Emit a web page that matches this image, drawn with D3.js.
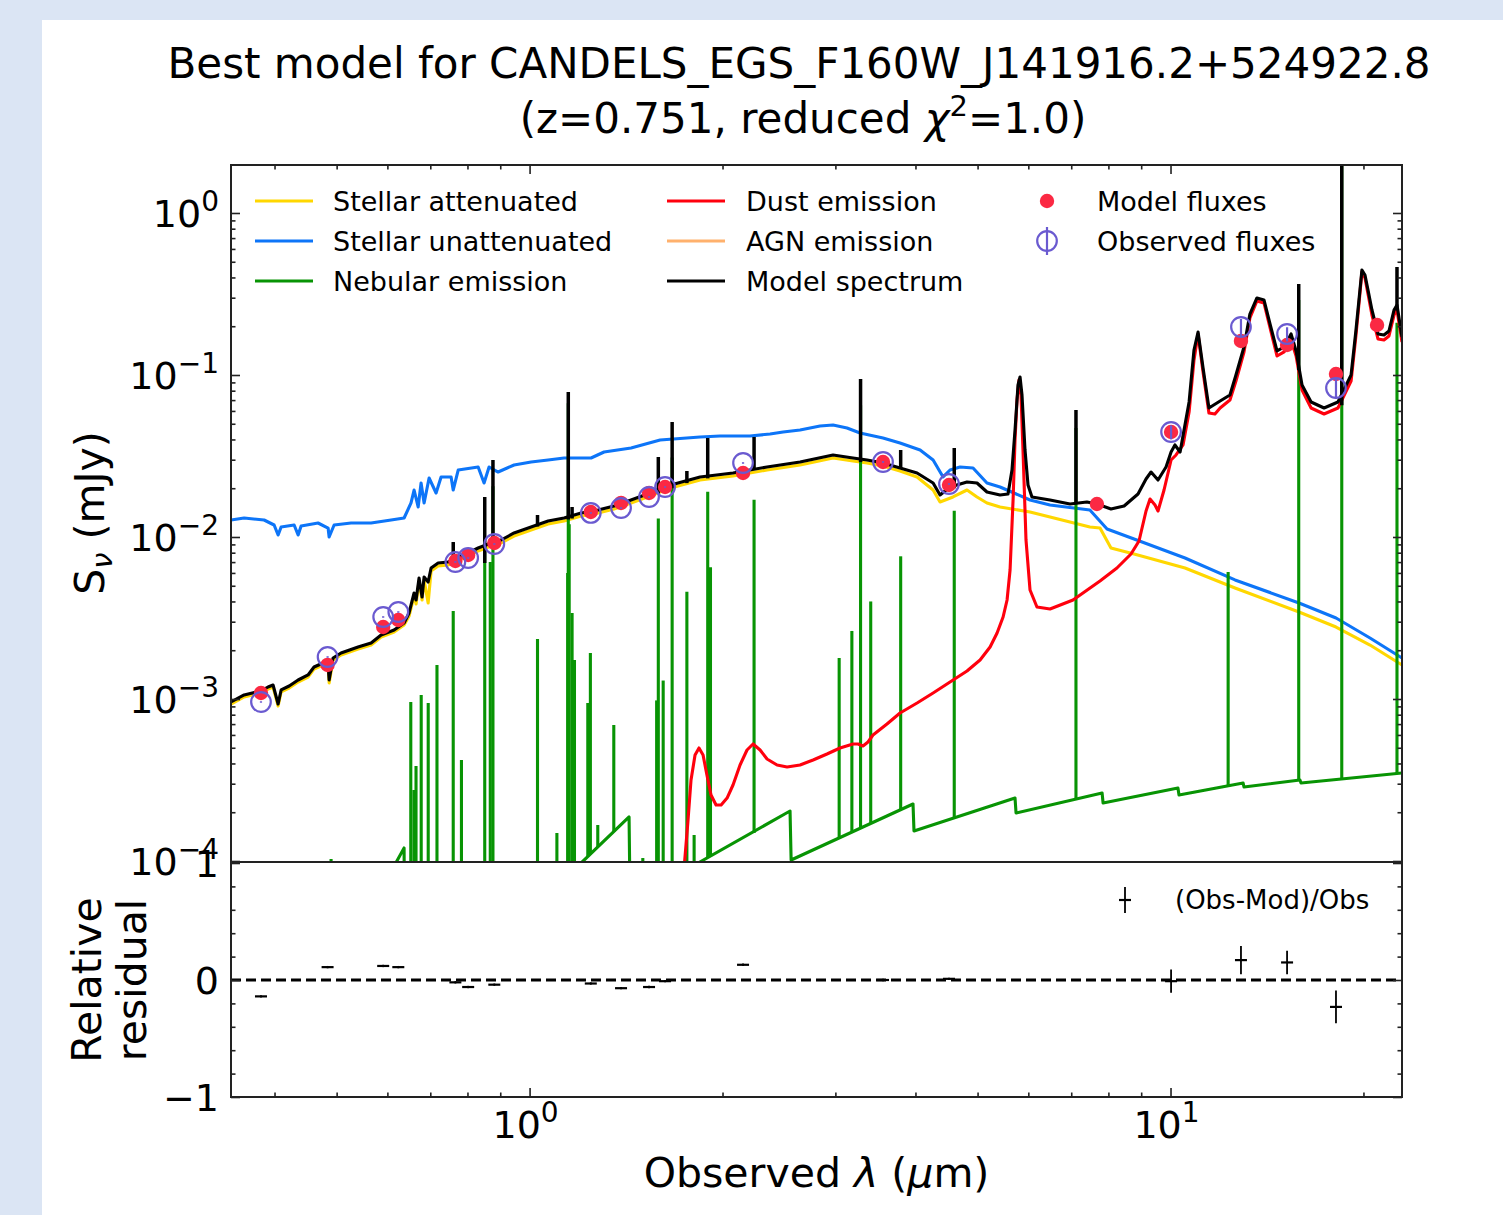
<!DOCTYPE html>
<html>
<head>
<meta charset="utf-8">
<script src="https://cdn.jsdelivr.net/npm/d3@7"></script>
<style>
html,body{margin:0;padding:0;background:#dbe5f4;}
svg{display:block;}
text{font-family:"DejaVu Sans",sans-serif;fill:#000;}
</style>
</head>
<body>
<svg id="chart" width="1503" height="1215"></svg>
<script>
// ---------------- DATA (wavelength in micron, flux density in mJy) ----------------
const stellarAttenuated = [[0.3421,9.31e-4],[0.3586,1.029e-3],[0.3812,1.089e-3],[0.3908,1.152e-3],[0.3979,1.186e-3],[0.4052,9.05e-4],[0.4096,1.105e-3],[0.4216,1.169e-3],[0.4354,1.273e-3],[0.4512,1.367e-3],[0.4610,1.532e-3],[0.4762,1.622e-3],[0.4849,1.576e-3],[0.4867,1.255e-3],[0.4936,1.741e-3],[0.5080,1.869e-3],[0.5400,2.035e-3],[0.5659,2.154e-3],[0.5866,2.413e-3],[0.6147,2.592e-3],[0.6371,2.863e-3],[0.6486,3.252e-3],[0.6604,4.323e-3],[0.6651,3.859e-3],[0.6723,5.352e-3],[0.6796,4.084e-3],[0.6846,5.427e-3],[0.6946,3.914e-3],[0.7020,6.166e-3],[0.7200,6.622e-3],[0.7463,6.717e-3],[0.7738,7.211e-3],[0.7903,7.420e-3],[0.8313,8.197e-3],[0.8708,8.800e-3],[0.9028,9.183e-3],[0.9458,1.014e-2],[1.0054,1.105e-2],[1.0688,1.203e-2],[1.1319,1.255e-2],[1.2035,1.348e-2],[1.2793,1.407e-2],[1.3547,1.489e-2],[1.4398,1.622e-2],[1.5417,1.791e-2],[1.6387,1.978e-2],[1.8450,2.248e-2],[2.0769,2.379e-2],[2.3469,2.591e-2],[2.6424,2.783e-2],[2.9748,3.074e-2],[3.196,2.945e-2],[3.362,2.863e-2],[3.5597,2.743e-2],[3.7844,2.555e-2],[4.0231,2.347e-2],[4.2618,1.950e-2],[4.3693,1.644e-2],[4.5777,1.766e-2],[4.8139,1.950e-2],[4.9899,1.766e-2],[5.1714,1.622e-2],[5.4200,1.532e-2],[6.0368,1.427e-2],[6.4863,1.329e-2],[7.4851,1.153e-2],[7.762,1.136e-2],[8.074,8.553e-3],[8.7723,7.855e-3],[10.535,6.437e-3],[12.607,4.843e-3],[15.865,3.443e-3],[18.124,2.782e-3],[20.477,2.154e-3],[22.97,1.622e-3]];

const stellarUnattenuated = [[0.3421,0.01273],[0.3586,0.01310],[0.3853,0.01273],[0.3994,0.01186],[0.4052,0.01029],[0.4096,0.01153],[0.4292,0.01186],[0.4354,0.01029],[0.4401,0.01169],[0.4677,0.01220],[0.4849,0.01136],[0.4867,0.0100],[0.4955,0.01186],[0.5266,0.01220],[0.5659,0.01220],[0.6081,0.01273],[0.6371,0.01310],[0.6532,0.01622],[0.6604,0.01950],[0.6701,0.01532],[0.6772,0.02154],[0.6846,0.01622],[0.6970,0.02313],[0.7147,0.01869],[0.7277,0.02347],[0.7543,0.02347],[0.7600,0.01950],[0.7738,0.02591],[0.8313,0.02704],[0.8492,0.02154],[0.8646,0.02704],[0.8931,0.02518],[0.9458,0.02783],[1.0054,0.02904],[1.0688,0.02987],[1.1319,0.03074],[1.2472,0.03074],[1.3068,0.03347],[1.4398,0.03544],[1.5983,0.03971],[1.8450,0.04144],[1.9825,0.04203],[2.2080,0.04203],[2.3725,0.04324],[2.4863,0.04446],[2.6424,0.04575],[2.8390,0.04844],[2.9748,0.04913],[3.1281,0.04709],[3.2777,0.04385],[3.5597,0.04084],[3.7844,0.03804],[4.0671,0.03444],[4.2618,0.02987],[4.4174,0.02347],[4.5290,0.02591],[4.6946,0.02704],[4.9191,0.02667],[5.1714,0.02154],[5.4200,0.02035],[6.0368,0.01692],[6.4863,0.01576],[7.4851,0.01468],[7.9615,0.01120],[8.7723,0.00972],[10.535,0.00742],[12.607,0.00543],[15.865,0.003915],[18.124,0.003162],[20.477,0.002379],[22.97,0.001790]];

const nebularContinuum = [[0.3421,3.35e-6],[0.6147,9.31e-5],[0.6371,1.203e-4],[0.6394,7.855e-6],[1.2035,9.72e-5],[1.4296,1.869e-4],[1.4349,5.583e-5],[1.832,9.72e-5],[2.549,2.035e-4],[2.559,1.014e-4],[3.965,2.248e-4],[3.979,1.532e-4],[5.720,2.447e-4],[5.741,1.978e-4],[7.820,2.63e-4],[7.849,2.280e-4],[10.27,2.822e-4],[10.31,2.555e-4],[12.98,3.03e-4],[13.02,2.863e-4],[15.92,3.162e-4],[15.98,3.03e-4],[22.97,3.494e-4]];

// nebular emission lines: [wavelength, base flux, peak flux]
const nebularLines = [[0.4901,2e-5,1.029e-4],[0.6526,2e-5,9.584e-4],[0.6600,2e-5,2.743e-4],[0.6650,2e-5,3.859e-4],[0.6775,2e-5,1.059e-3],[0.6948,2e-5,9.447e-4],[0.7170,2e-5,1.622e-3],[0.7601,2e-5,3.494e-3],[0.7829,2e-5,4.203e-4],[0.8512,2e-5,8.5e-3],[0.8683,2e-5,7.0e-3],[0.8767,2e-5,2.06e-2],[1.0289,2e-5,2.345e-3],[1.1031,2e-5,1.489e-4],[1.1466,2e-5,6.0e-3],[1.1492,2e-5,6.7e-2],[1.1529,2e-5,1.2e-2],[1.1650,2e-5,3.395e-3],[1.1750,2e-5,1.741e-3],[1.2326,1.074e-4,9.447e-4],[1.2441,1.105e-4,1.923e-3],[1.2776,1.22e-4,1.668e-4],[1.3533,1.51e-4,6.912e-4],[1.502,7.6e-5,1.043e-4],[1.5785,6e-5,9.8e-4],[1.588,6e-5,1.30e-2],[1.616,6e-5,1.3e-3],[1.6689,6e-5,3.1e-2],[1.7596,8.8e-5,4.6e-3],[1.806,9.3e-5,1.447e-4],[1.8964,1.043e-4,1.9e-2],[1.9153,1.059e-4,6.5e-3],[2.240,1.489e-4,1.7e-2],[3.041,1.387e-4,1.791e-3],[3.183,1.51e-4,2.63e-3],[3.284,1.598e-4,6.5e-2],[3.406,1.716e-4,4.0e-3],[3.793,2.094e-4,7.6e-3],[4.598,1.843e-4,1.45e-2],[7.12,2.415e-4,4.7e-2],[12.30,2.945e-4,6.081e-3],[15.85,3.162e-4,0.29],[18.50,3.208e-4,3.0],[22.56,3.494e-4,0.21]];

const dustEmission = [[1.736,7.63e-5],[1.767,1.791e-4],[1.786,3.162e-4],[1.812,4.511e-4],[1.838,4.983e-4],[1.865,4.511e-4],[1.891,3.395e-4],[1.919,2.555e-4],[1.954,2.216e-4],[1.990,2.216e-4],[2.033,2.447e-4],[2.0769,2.945e-4],[2.130,3.914e-4],[2.184,4.843e-4],[2.232,5.275e-4],[2.289,4.843e-4],[2.3469,4.263e-4],[2.433,3.914e-4],[2.522,3.804e-4],[2.6424,3.914e-4],[2.769,4.203e-4],[2.911,4.576e-4],[3.0506,4.983e-4],[3.196,5.275e-4],[3.254,5.275e-4],[3.313,5.128e-4],[3.373,5.427e-4],[3.434,5.995e-4],[3.611,7.011e-4],[3.7844,8.197e-4],[4.0231,9.447e-4],[4.2618,1.089e-3],[4.5290,1.273e-3],[4.8139,1.489e-3],[5.045,1.741e-3],[5.230,2.094e-3],[5.363,2.555e-3],[5.480,3.208e-3],[5.559,4.084e-3],[5.619,6.256e-3],[5.680,1.692e-2],[5.720,3.971e-2],[5.761,7.011e-2],[5.802,9.314e-2],[5.844,7.525e-2],[5.886,3.444e-2],[5.950,9.583e-3],[6.0368,4.707e-3],[6.189,3.698e-3],[6.4863,3.594e-3],[7.045,4.084e-3],[7.762,5.352e-3],[8.249,6.437e-3],[8.676,7.855e-3],[8.930,9.447e-3],[9.158,1.447e-2],[9.290,1.716e-2],[9.458,1.576e-2],[9.561,1.447e-2],[9.770,1.950e-2],[10.02,2.987e-2],[10.20,3.208e-2],[10.46,3.698e-2],[10.69,5.909e-2],[10.88,0.1238],[11.04,0.1791],[11.24,0.1043],[11.48,5.826e-2],[11.73,5.745e-2],[11.95,6.256e-2],[12.38,7.011e-2],[12.65,9.183e-2],[13.02,0.1387],[13.30,0.2248],[13.64,0.2863],[13.99,0.2782],[14.30,0.1950],[14.66,0.1310],[15.04,0.1387],[15.42,0.1644],[15.70,0.1310],[16.04,8.076e-2],[16.57,6.256e-2],[17.36,5.745e-2],[18.25,6.256e-2],[19.13,9.183e-2],[19.47,0.1766],[19.75,0.3208],[19.89,0.4323],[20.11,0.3971],[20.33,0.3162],[20.62,0.2345],[21.07,0.1668],[21.53,0.1644],[21.92,0.1741],[22.32,0.2345],[22.56,0.2519],[22.97,0.1598]];

const modelSpectrum = [[0.3421,9.584e-4],[0.3586,1.059e-3],[0.3812,1.121e-3],[0.3908,1.186e-3],[0.3979,1.220e-3],[0.4052,9.31e-4],[0.4096,1.137e-3],[0.4216,1.203e-3],[0.4354,1.310e-3],[0.4512,1.407e-3],[0.4610,1.576e-3],[0.4762,1.668e-3],[0.4849,1.622e-3],[0.4867,1.310e-3],[0.4936,1.791e-3],[0.5080,1.923e-3],[0.5400,2.094e-3],[0.5659,2.216e-3],[0.5866,2.484e-3],[0.6147,2.667e-3],[0.6371,2.945e-3],[0.6486,3.395e-3],[0.6604,4.511e-3],[0.6651,4.084e-3],[0.6723,5.583e-3],[0.6796,4.263e-3],[0.6846,5.664e-3],[0.6946,5.275e-3],[0.7020,6.437e-3],[0.7200,6.912e-3],[0.7463,7.011e-3],[0.7738,7.525e-3],[0.7903,7.743e-3],[0.8313,8.553e-3],[0.8708,9.183e-3],[0.9028,9.583e-3],[0.9458,1.059e-2],[1.0054,1.153e-2],[1.0688,1.255e-2],[1.1319,1.310e-2],[1.2035,1.407e-2],[1.2793,1.468e-2],[1.3547,1.554e-2],[1.4398,1.692e-2],[1.5417,1.869e-2],[1.6387,2.064e-2],[1.8450,2.347e-2],[2.0769,2.484e-2],[2.3469,2.704e-2],[2.6424,2.904e-2],[2.9748,3.208e-2],[3.196,3.074e-2],[3.362,2.987e-2],[3.5597,2.863e-2],[3.7844,2.667e-2],[4.0231,2.484e-2],[4.2618,2.154e-2],[4.3693,1.817e-2],[4.5290,2.035e-2],[4.8139,2.185e-2],[4.9899,2.154e-2],[5.1714,1.896e-2],[5.4200,1.817e-2],[5.578,1.843e-2],[5.658,2.591e-2],[5.720,4.575e-2],[5.782,8.678e-2],[5.824,9.72e-2],[5.865,7.525e-2],[5.929,3.444e-2],[5.993,2.094e-2],[6.079,1.766e-2],[6.4863,1.692e-2],[6.969,1.598e-2],[7.406,1.644e-2],[7.677,1.598e-2],[8.074,1.489e-2],[8.464,1.554e-2],[8.898,1.843e-2],[9.158,2.280e-2],[9.324,2.518e-2],[9.561,2.248e-2],[9.840,2.704e-2],[10.02,3.347e-2],[10.16,3.698e-2],[10.35,3.347e-2],[10.69,6.812e-2],[10.88,0.1427],[11.04,0.1843],[11.24,0.1105],[11.48,6.256e-2],[11.95,6.912e-2],[12.38,7.525e-2],[12.65,0.1],[13.02,0.1489],[13.30,0.2379],[13.64,0.2988],[13.99,0.2904],[14.30,0.2064],[14.66,0.1407],[15.04,0.1489],[15.42,0.1791],[15.70,0.1407],[16.04,8.678e-2],[16.57,6.812e-2],[17.36,6.256e-2],[18.25,6.812e-2],[19.13,0.1],[19.47,0.1896],[19.75,0.3347],[19.89,0.4448],[20.11,0.4143],[20.33,0.3347],[20.62,0.2519],[21.07,0.1791],[21.53,0.1766],[21.92,0.1869],[22.32,0.2519],[22.56,0.2704],[22.97,0.1716]];

// emission-line spikes on the model spectrum: [wavelength, base flux, peak flux]
const modelSpectrumLines = [[0.7601,7.1e-3,9.31e-3],[0.8512,6.91e-3,1.766e-2],[0.8767,9.0e-3,2.987e-2],[1.0289,1.16e-2,1.367e-2],[1.1492,1.28e-2,7.855e-2],[1.1650,1.30e-2,1.532e-2],[1.588,1.85e-2,3.117e-2],[1.6689,2.0e-2,5.128e-2],[1.7596,2.15e-2,2.555e-2],[1.8964,2.3e-2,4.084e-2],[2.240,2.6e-2,4.144e-2],[3.284,2.9e-2,9.447e-2],[3.793,2.68e-2,3.444e-2],[4.598,2.0e-2,3.544e-2],[7.12,1.6e-2,6.081e-2],[15.85,0.107,0.3645],[18.50,0.065,3.0],[22.56,0.25,0.4642]];

// photometry
const filterWavelengths = [0.381,0.484,0.591,0.624,0.766,0.802,0.881,1.246,1.389,1.536,1.627,2.153,3.560,4.512,7.677,10.02,12.88,15.20,18.12,21.00];
const modelFluxes = [1.089e-3,1.622e-3,2.782e-3,3.074e-3,7.11e-3,7.743e-3,9.183e-3,1.427e-2,1.622e-2,1.869e-2,2.035e-2,2.484e-2,2.904e-2,2.094e-2,1.598e-2,4.446e-2,0.1622,0.1532,0.1014,0.2035];
const observedFluxes = [9.584e-4,1.817e-3,3.208e-3,3.443e-3,7.011e-3,7.42e-3,9.05e-3,1.407e-2,1.51e-2,1.766e-2,2.035e-2,2.863e-2,2.904e-2,2.124e-2,null,4.446e-2,0.1978,0.1791,8.313e-2,null];
const observedErrors = [1.0e-5,2.0e-5,3.5e-5,3.8e-5,8e-5,8e-5,1e-4,1.5e-4,1.6e-4,1.9e-4,2.2e-4,3.2e-4,3.2e-4,2.4e-4,null,4.4e-3,2.4e-2,1.8e-2,1.2e-2,null];
const relativeResiduals = [-0.14,0.11,0.12,0.11,-0.02,-0.06,-0.04,-0.03,-0.07,-0.06,-0.01,0.13,0.0,0.01,null,-0.01,0.17,0.15,-0.23,null];
const residualErrors = [0.01,0.01,0.01,0.01,0.01,0.01,0.01,0.01,0.01,0.01,0.01,0.01,0.01,0.01,null,0.10,0.12,0.10,0.14,null];

// axes ticks / labels
const xTickValues = [1, 10];
const xTickExponents = ["0", "1"];
const yTickValues = [1e-4, 1e-3, 1e-2, 1e-1, 1];
const yTickExponents = ["\u22124", "\u22123", "\u22122", "\u22121", "0"];
const residualTickValues = [-1, 0, 1];
const residualTickLabels = ["\u22121", "0", "1"];
const xMinorTicks = [0.4,0.5,0.6,0.7,0.8,0.9,2,3,4,5,6,7,8,9,20];
const yMinorTicks = [2e-4,3e-4,4e-4,5e-4,6e-4,7e-4,8e-4,9e-4,2e-3,3e-3,4e-3,5e-3,6e-3,7e-3,8e-3,9e-3,2e-2,3e-2,4e-2,5e-2,6e-2,7e-2,8e-2,9e-2,0.2,0.3,0.4,0.5,0.6,0.7,0.8,0.9];
const residualMinorTicks = [-0.8,-0.6,-0.4,-0.2,0.2,0.4,0.6,0.8];

const legendEntries = [
  {label:"Stellar attenuated", color:"#ffd700", type:"line"},
  {label:"Stellar unattenuated", color:"#0d75f8", type:"line"},
  {label:"Nebular emission", color:"#089404", type:"line"},
  {label:"Dust emission", color:"#ff000d", type:"line"},
  {label:"AGN emission", color:"#ffb16d", type:"line"},
  {label:"Model spectrum", color:"#000000", type:"line"},
  {label:"Model fluxes", color:"#fb2943", type:"dot"},
  {label:"Observed fluxes", color:"#6a5ad0", type:"obs"}
];

// ---------------- LAYOUT ----------------
const W = 1503, H = 1215;
const L = 231, R = 1402, T = 165, B = 862, RB = 1097;
const COL = {att:"#ffd700", unatt:"#0d75f8", neb:"#089404", dust:"#ff000d", model:"#000", mod:"#fb2943", obs:"#6a5ad0"};
const LW = 3.1;

const svg = d3.select("#chart");
svg.append("rect").attr("width", W).attr("height", H).attr("fill", "#dbe5f4");
svg.append("rect").attr("x", 42).attr("y", 20).attr("width", W - 42).attr("height", H - 20).attr("fill", "#fff");

const defs = svg.append("defs");
defs.append("clipPath").attr("id", "clipMain").append("rect").attr("x", L).attr("y", T).attr("width", R - L).attr("height", B - T);
defs.append("clipPath").attr("id", "clipRes").append("rect").attr("x", L).attr("y", B).attr("width", R - L).attr("height", RB - B);

const x = d3.scaleLog().domain([0.3421, 22.97]).range([L, R]);
const y = d3.scaleLog().domain([9.858e-5, 1.978]).range([B, T]);
const yr = d3.scaleLinear().domain([-1, 1]).range([RB, 863]);

const line = d3.line().x(d => x(d[0])).y(d => y(d[1]));
const gMain = svg.append("g").attr("clip-path", "url(#clipMain)");

function curve(data, color, w) {
  gMain.append("path").attr("d", line(data)).attr("fill", "none")
    .attr("stroke", color).attr("stroke-width", w).attr("stroke-linejoin", "round");
}
function spikes(data, color, w) {
  gMain.append("g").selectAll("path").data(data).join("path")
    .attr("d", d => line([[d[0], d[1]], [d[0], d[2]]]))
    .attr("fill", "none").attr("stroke", color).attr("stroke-width", w);
}

curve(stellarAttenuated, COL.att, LW);
curve(stellarUnattenuated, COL.unatt, LW);
curve(nebularContinuum, COL.neb, LW);
spikes(nebularLines, COL.neb, LW);
curve(dustEmission, COL.dust, LW);
curve(modelSpectrum, COL.model, LW);
spikes(modelSpectrumLines, COL.model, LW + 0.4);

// model fluxes
const photo = filterWavelengths.map((w, i) => ({w, mod: modelFluxes[i], obs: observedFluxes[i], err: observedErrors[i], res: relativeResiduals[i], rerr: residualErrors[i]}));
gMain.append("g").selectAll("circle").data(photo).join("circle")
  .attr("cx", d => x(d.w)).attr("cy", d => y(d.mod)).attr("r", 7.2).attr("fill", COL.mod);
// observed fluxes
const obsPts = photo.filter(d => d.obs != null);
const gObs = gMain.append("g");
gObs.selectAll("line").data(obsPts).join("line")
  .attr("x1", d => x(d.w)).attr("x2", d => x(d.w))
  .attr("y1", d => y(d.obs - d.err)).attr("y2", d => y(d.obs + d.err))
  .attr("stroke", COL.obs).attr("stroke-width", 2.2);
gObs.selectAll("circle").data(obsPts).join("circle")
  .attr("cx", d => x(d.w)).attr("cy", d => y(d.obs)).attr("r", 9.8)
  .attr("fill", "none").attr("stroke", COL.obs).attr("stroke-width", 2.2);

// ---------------- RESIDUAL PANEL ----------------
const gRes = svg.append("g").attr("clip-path", "url(#clipRes)");
gRes.append("path").attr("d", d3.line().x(d => x(d[0])).y(d => yr(d[1]))([[0.3421, 0], [22.97, 0]]))
  .attr("stroke", "#000").attr("stroke-width", 2.8).attr("stroke-dasharray", "10,5").attr("fill", "none");
const resPts = photo.filter(d => d.res != null);
gRes.append("g").selectAll("line").data(resPts).join("line")
  .attr("x1", d => x(d.w)).attr("x2", d => x(d.w))
  .attr("y1", d => yr(d.res - d.rerr)).attr("y2", d => yr(d.res + d.rerr))
  .attr("stroke", "#000").attr("stroke-width", 1.8);
gRes.append("g").selectAll("line").data(resPts).join("line")
  .attr("x1", d => x(d.w) - 6).attr("x2", d => x(d.w) + 6)
  .attr("y1", d => yr(d.res)).attr("y2", d => yr(d.res))
  .attr("stroke", "#000").attr("stroke-width", 2.2);

// ---------------- AXES / TICKS ----------------
function ticks(axis, tx, ty) {
  svg.append("g").attr("transform", `translate(${tx},${ty})`).call(axis)
    .call(g => g.select(".domain").remove())
    .call(g => g.selectAll(".tick line").attr("stroke", "#222").attr("stroke-width", 1.6))
    .call(g => g.selectAll(".tick text").remove());
}
ticks(d3.axisLeft(y).tickValues(yTickValues).tickSize(-9), L, 0);
ticks(d3.axisLeft(y).tickValues(yMinorTicks).tickSize(-4.5), L, 0);
ticks(d3.axisRight(y).tickValues(yTickValues).tickSize(-9), R, 0);
ticks(d3.axisRight(y).tickValues(yMinorTicks).tickSize(-4.5), R, 0);
ticks(d3.axisTop(x).tickValues(xTickValues).tickSize(-9), 0, T);
ticks(d3.axisTop(x).tickValues(xMinorTicks).tickSize(-4.5), 0, T);
ticks(d3.axisBottom(x).tickValues(xTickValues).tickSize(-9), 0, RB);
ticks(d3.axisBottom(x).tickValues(xMinorTicks).tickSize(-4.5), 0, RB);
ticks(d3.axisLeft(yr).tickValues(residualTickValues).tickSize(-9), L, 0);
ticks(d3.axisLeft(yr).tickValues(residualMinorTicks).tickSize(-4.5), L, 0);
ticks(d3.axisRight(yr).tickValues(residualTickValues).tickSize(-9), R, 0);
ticks(d3.axisRight(yr).tickValues(residualMinorTicks).tickSize(-4.5), R, 0);

// frames
svg.append("rect").attr("x", L).attr("y", T).attr("width", R - L).attr("height", B - T)
  .attr("fill", "none").attr("stroke", "#222").attr("stroke-width", 2);
svg.append("rect").attr("x", L).attr("y", B).attr("width", R - L).attr("height", RB - B)
  .attr("fill", "none").attr("stroke", "#222").attr("stroke-width", 2);

// tick labels
function powLabel(px, py, exp, anchor) {
  const t = svg.append("text").attr("x", px).attr("y", py).attr("text-anchor", anchor).attr("font-size", 38);
  t.append("tspan").text("10");
  t.append("tspan").attr("dy", -16).attr("font-size", 28).text(exp);
}
yTickValues.forEach((v, i) => powLabel(219, y(v) + 14, yTickExponents[i], "end"));
xTickValues.forEach((v, i) => powLabel(x(v) - 4, 1138, xTickExponents[i], "middle"));
residualTickValues.forEach((v, i) => {
  svg.append("text").attr("x", 219).attr("y", yr(v) + 14).attr("text-anchor", "end")
    .attr("font-size", 38).text(residualTickLabels[i]);
});

// axis labels
const yl = svg.append("text").attr("transform", "translate(104,513) rotate(-90)")
  .attr("text-anchor", "middle").attr("font-size", 41);
yl.append("tspan").text("S");
yl.append("tspan").attr("font-size", 29).attr("dy", 8).attr("font-style", "italic").text("\u03BD");
yl.append("tspan").attr("dy", -8).text(" (mJy)");

svg.append("text").attr("transform", "translate(101,980) rotate(-90)")
  .attr("text-anchor", "middle").attr("font-size", 41).text("Relative");
svg.append("text").attr("transform", "translate(146,980) rotate(-90)")
  .attr("text-anchor", "middle").attr("font-size", 41).text("residual");

const xl = svg.append("text").attr("x", (L + R) / 2).attr("y", 1187)
  .attr("text-anchor", "middle").attr("font-size", 41);
xl.append("tspan").text("Observed ");
xl.append("tspan").attr("font-style", "italic").text("\u03BB");
xl.append("tspan").text(" (");
xl.append("tspan").attr("font-style", "italic").text("\u03BC");
xl.append("tspan").text("m)");

// title
svg.append("text").attr("x", 799).attr("y", 78).attr("text-anchor", "middle").attr("font-size", 42)
  .text("Best model for CANDELS_EGS_F160W_J141916.2+524922.8");
const t2 = svg.append("text").attr("x", 803).attr("y", 133).attr("text-anchor", "middle").attr("font-size", 42);
t2.append("tspan").text("(z=0.751, reduced ");
t2.append("tspan").attr("font-style", "italic").text("\u03C7");
t2.append("tspan").attr("font-size", 29).attr("dy", -17).text("2");
t2.append("tspan").attr("dy", 17).text("=1.0)");

// legend (3 columns x 3 rows)
const legendPos = [
  {lx: 255, tx: 333, cy: 201}, {lx: 255, tx: 333, cy: 241}, {lx: 255, tx: 333, cy: 281},
  {lx: 667, tx: 746, cy: 201}, {lx: 667, tx: 746, cy: 241}, {lx: 667, tx: 746, cy: 281},
  {lx: 1047, tx: 1097, cy: 201}, {lx: 1047, tx: 1097, cy: 241}
];
legendEntries.forEach((e, i) => {
  const p = legendPos[i];
  if (e.type === "line") {
    svg.append("line").attr("x1", p.lx).attr("x2", p.lx + 58).attr("y1", p.cy).attr("y2", p.cy)
      .attr("stroke", e.color).attr("stroke-width", LW);
  } else if (e.type === "dot") {
    svg.append("circle").attr("cx", p.lx).attr("cy", p.cy).attr("r", 7.2).attr("fill", e.color);
  } else {
    svg.append("line").attr("x1", p.lx).attr("x2", p.lx).attr("y1", p.cy - 14).attr("y2", p.cy + 14)
      .attr("stroke", e.color).attr("stroke-width", 2.2);
    svg.append("circle").attr("cx", p.lx).attr("cy", p.cy).attr("r", 9.8)
      .attr("fill", "none").attr("stroke", e.color).attr("stroke-width", 2.2);
  }
  svg.append("text").attr("x", p.tx).attr("y", p.cy + 10).attr("font-size", 27).text(e.label);
});

// residual legend
svg.append("line").attr("x1", 1125).attr("x2", 1125).attr("y1", 887).attr("y2", 913).attr("stroke", "#000").attr("stroke-width", 1.8);
svg.append("line").attr("x1", 1119).attr("x2", 1131).attr("y1", 900).attr("y2", 900).attr("stroke", "#000").attr("stroke-width", 2.2);
svg.append("text").attr("x", 1175).attr("y", 909).attr("font-size", 26).text("(Obs-Mod)/Obs");
</script>
</body>
</html>
